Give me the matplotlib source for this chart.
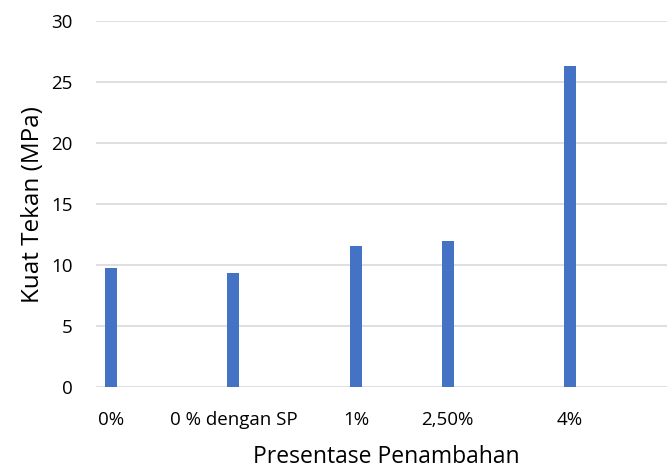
import matplotlib
matplotlib.use("Agg")
import matplotlib.pyplot as plt

categories = ["0%", "0 % dengan SP", "1%", "2,50%", "4%"]
values = [9.75, 9.35, 11.6, 11.97, 26.35]
yticks = [0, 5, 10, 15, 20, 25, 30]

# layout (x positions of the category slots)
positions = [0, 1, 2, 2.75, 3.75]

plt.rcParams['font.family'] = ['Open Sans', 'DejaVu Sans']

fig = plt.figure(figsize=(6.67, 4.68), dpi=100)
ax = fig.add_axes([0.1439, 0.1724, 0.856, 0.7821])

ax.bar(positions, values, width=0.098, color="#4472C4", zorder=3)
ax.set_xlim(-0.122, 4.54)
ax.set_ylim(0, 30)
ax.set_yticks(yticks)
ax.set_yticklabels([str(t) for t in yticks])
ax.set_xticks(positions)
ax.set_xticklabels(categories)
ax.grid(axis='y', color="#d9d9d9", linewidth=1.2, zorder=0)
for s in ax.spines.values():
    s.set_visible(False)
ax.tick_params(axis='both', length=0, labelsize=13.5, colors="#000000")
ax.tick_params(axis='x', pad=17)
ax.tick_params(axis='y', pad=17)
ax.set_xlabel("Presentase Penambahan", fontsize=16.5)
ax.xaxis.set_label_coords(0.508, -0.19)
ax.xaxis.label.set_va('center')
ax.set_ylabel("Kuat Tekan (MPa)", fontsize=17.5, labelpad=4)

fig.savefig("out.png", dpi=100)
